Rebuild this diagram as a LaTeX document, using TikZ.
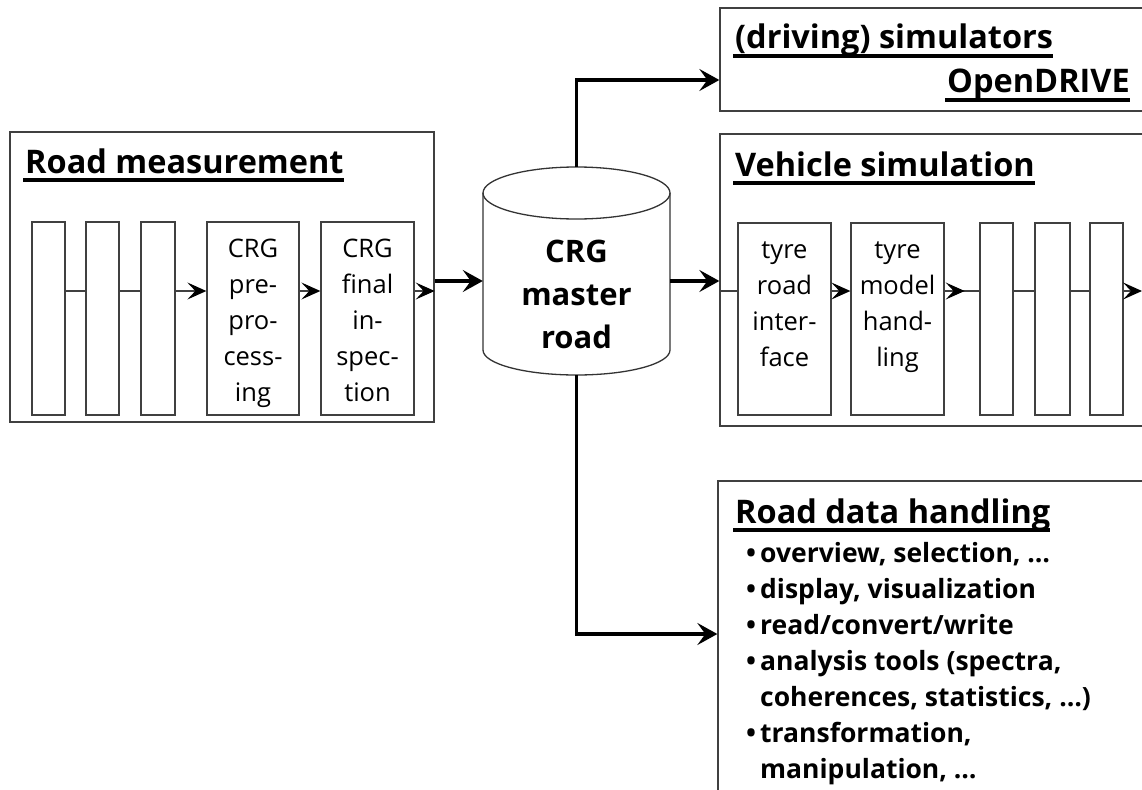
\documentclass[tikz,border=0pt]{standalone}
\usepackage{fontspec}
\setmainfont{Open Sans}
\usetikzlibrary{arrows.meta,calc}

\begin{document}
\begin{tikzpicture}[x=1pt,y=-1pt,
  frame/.style={draw=black!75, line width=1.3pt, inner sep=0pt},
  stage/.style={draw=black!75, line width=1.3pt, inner sep=0pt, minimum height=193pt},
  link/.style={draw=black!75, line width=1.4pt},
  linkarr/.style={link, -{Stealth[length=19pt,width=17pt,inset=8pt,color=black]}},
  flowarr/.style={line width=3.5pt, -{Stealth[length=20pt,width=22pt,inset=8pt]}},
  title/.style={font=\bfseries\fontsize{32.5}{38}\selectfont, inner sep=0pt, anchor=base west},
  uline/.style={line width=3.5pt},
  stagetext/.style={font=\fontsize{25.5}{36}\selectfont, align=center, inner sep=0pt, anchor=north},
]
\clip (0,0) rectangle (1142,789);

% helper heights for the horizontal flows
\coordinate (rail) at (0,291);
\coordinate (flow) at (0,281);
\coordinate (up) at (0,80);
\coordinate (low) at (0,634);
\coordinate (edge) at (1142,291);

% ---------- Road measurement ----------
\node[frame, minimum width=424pt, minimum height=290pt] (rm) at (222,277) {};
\node[title] (rmt) at (25,173) {Road measurement};
\draw[uline] ($(rmt.base west)+(-2,7)$) -- ($(rmt.base east)+(0,7)$);

\node[stage, minimum width=33pt] (m1) at (48.5,318.5) {};
\node[stage, minimum width=33pt] (m2) at (102.5,318.5) {};
\node[stage, minimum width=34pt] (m3) at (158,318.5) {};
\node[stage, minimum width=92pt] (m4) at (253,318.5) {};
\node[stage, minimum width=93pt] (m5) at (367.5,318.5) {};
\node[stagetext] at ([yshift=-10.8pt]m4.north) {\strut CRG\\pre-\\pro-\\cess-\\ing};
\node[stagetext] at ([yshift=-10.8pt]m5.north) {\strut CRG\\final\\in-\\spec-\\tion};

\draw[link] (m1.east |- rail) -- (m2.west |- rail);
\draw[link] (m2.east |- rail) -- (m3.west |- rail);
\draw[linkarr] (m3.east |- rail) -- (m4.west |- rail);
\draw[linkarr] (m4.east |- rail) -- (m5.west |- rail);
\draw[linkarr] (m5.east |- rail) -- (rm.east |- rail);

% ---------- CRG master road (data base) ----------
\node[minimum width=187pt, minimum height=208pt, inner sep=0pt] (db) at (576.5,271) {};
\draw[draw=black!80, line width=1.3pt, fill=white]
  (483,193) -- (483,350) arc[start angle=180, end angle=360, x radius=93.5pt, y radius=25pt] -- (670,193);
\draw[draw=black!80, line width=1.3pt] (576.5,193) ellipse [x radius=93.5pt, y radius=26pt];
\node[font=\bfseries\fontsize{31}{43}\selectfont, align=center, inner sep=0pt]
  at ([yshift=-23pt]db.center) {CRG\\master\\road};

% ---------- (driving) simulators ----------
\node[frame, minimum width=440pt, minimum height=103pt] (sim) at (940,59.5) {};
\node[title] (simt) at (735,49) {(driving) simulators};
\draw[uline] ($(simt.base west)+(-2,7)$) -- ($(simt.base east)+(0,7)$);
\node[title, anchor=base east] (odt) at (1130,93) {OpenDRIVE};
\draw[uline] ($(odt.base west)+(-2,7)$) -- ($(odt.base east)+(0,7)$);

% ---------- Vehicle simulation ----------
\node[frame, minimum width=440pt, minimum height=292pt] (vs) at (940,280) {};
\node[title] (vst) at (735,176) {Vehicle simulation};
\draw[uline] ($(vst.base west)+(-2,7)$) -- ($(vst.base east)+(0,7)$);

\node[stage, minimum width=93pt, minimum height=192pt] (v1) at (784.5,319) {};
\node[stage, minimum width=93pt, minimum height=192pt] (v2) at (897.5,319) {};
\node[stage, minimum width=33pt, minimum height=192pt] (v3) at (996.5,319) {};
\node[stage, minimum width=35pt, minimum height=192pt] (v4) at (1052.5,319) {};
\node[stage, minimum width=33pt, minimum height=192pt] (v5) at (1106.5,319) {};
\node[stagetext] at ([yshift=-10.8pt]v1.north) {\strut tyre\\road\\inter-\\face};
\node[stagetext] at ([yshift=-10.8pt]v2.north) {\strut tyre\\model\\hand-\\ling};

\draw[link] (vs.west |- rail) -- (v1.west |- rail);
\draw[linkarr] (v1.east |- rail) -- (v2.west |- rail);
\draw[link] (v2.east |- rail) -- (v3.west |- rail);
\draw[linkarr] (v2.east |- rail) -- ++(20,0);
\draw[link] (v3.east |- rail) -- (v4.west |- rail);
\draw[link] (v4.east |- rail) -- (v5.west |- rail);
\draw[linkarr] (v5.east |- rail) -- (edge);

% ---------- Road data handling ----------
\node[frame, minimum width=444pt, minimum height=339pt] (rdh) at (940,650.5) {};
\node[title] (rdht) at (735,523) {Road data handling};
\draw[uline] ($(rdht.base west)+(-2,7)$) -- ($(rdht.base east)+(0,7)$);
\node[anchor=north west, align=left, inner sep=0pt, font=\bfseries\fontsize{26.5}{36}\selectfont]
  (items) at (746,536.8) {\strut\makebox[14pt][l]{•}overview, selection, …\\
  \makebox[14pt][l]{•}display, visualization\\
  \makebox[14pt][l]{•}read/convert/write\\
  \makebox[14pt][l]{•}analysis tools (spectra,\\
  \hspace*{14pt}coherences, statistics, …)\\
  \makebox[14pt][l]{•}transformation,\\
  \hspace*{14pt}manipulation, …};

% ---------- main flows ----------
\draw[flowarr] (rm.east |- flow) -- (db.west |- flow);
\draw[flowarr] (db.east |- flow) -- (vs.west |- flow);
\draw[flowarr] (db.north) |- (sim.west |- up);
\draw[flowarr] (db.south) |- (rdh.west |- low);
\end{tikzpicture}
\end{document}
